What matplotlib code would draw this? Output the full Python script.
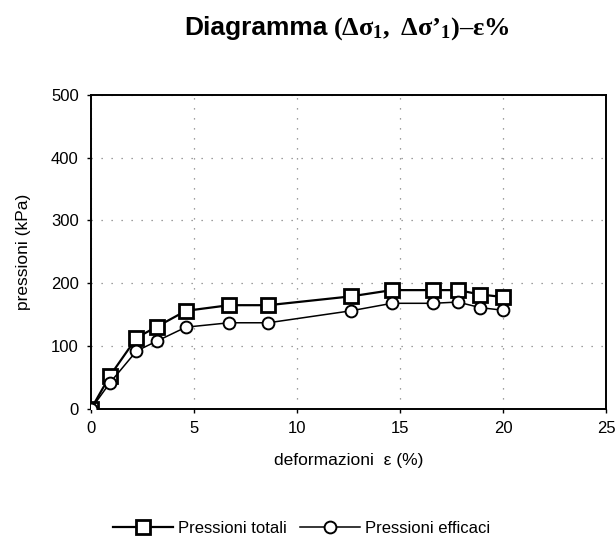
from matplotlib import pyplot as plt

# deformazioni (%) e pressioni (kPa)
deformazioni = [0, 0.9, 2.2, 3.2, 4.6, 6.7, 8.6, 12.6, 14.6, 16.6, 17.8, 18.9, 20.0]
pressioni_totali = [0, 52, 113, 131, 156, 165, 165, 179, 189, 189, 189, 182, 178]
pressioni_efficaci = [0, 41, 92, 108, 130, 137, 137, 156, 168, 168, 170, 161, 157]

x_ticks = [0, 5, 10, 15, 20, 25]
y_ticks = [0, 100, 200, 300, 400, 500]

plt.rcParams['font.family'] = ['Liberation Sans', 'DejaVu Sans']
plt.rcParams['mathtext.fontset'] = 'custom'
plt.rcParams['mathtext.rm'] = 'Liberation Serif:bold'
plt.rcParams['mathtext.it'] = 'Liberation Serif:bold'
plt.rcParams['mathtext.bf'] = 'Liberation Serif:bold'

fig = plt.figure(figsize=(6.16, 5.48), dpi=100)
ax = fig.add_axes([0.148, 0.254, 0.836, 0.573])

ax.plot(deformazioni, pressioni_totali, color='black', lw=1.6,
        marker='s', ms=10, mfc='white', mec='black', mew=2,
        label='Pressioni totali', zorder=3)
ax.plot(deformazioni, pressioni_efficaci, color='black', lw=1.1,
        marker='o', ms=8.5, mfc='white', mec='black', mew=1.4,
        label='Pressioni efficaci', zorder=4)

ax.set_xlim(0, 25)
ax.set_ylim(0, 500)
ax.set_xticks(x_ticks)
ax.set_yticks(y_ticks)
ax.tick_params(direction='out', length=3, width=1, labelsize=12, pad=6)
ax.grid(True, color='gray', linestyle=(0, (1, 7)), lw=0.9)
for s in ax.spines.values():
    s.set_linewidth(1.4)
    s.set_color('black')

ax.set_xlabel('deformazioni  ε (%)', fontsize=12.5, labelpad=12)
ax.set_ylabel('pressioni (kPa)', fontsize=12.5, labelpad=14)

# titolo in due parti: sans-serif + serif
fig.text(328 / 616, 1 - 35 / 548, 'Diagramma', fontsize=19, fontweight='bold',
         ha='right', va='baseline')
fig.text(333 / 616, 1 - 35 / 548, "$(\\Delta\\sigma_1,\\ \\Delta\\sigma\u2019_1)$–ε%",
         fontsize=19, fontweight='bold', family=['Liberation Serif', 'DejaVu Serif'],
         ha='left', va='baseline')

fig.legend(loc='center', bbox_to_anchor=(0.489, 0.036), ncol=2, frameon=False,
           fontsize=12, handlelength=3.6, handletextpad=0.3, columnspacing=0.8)

fig.savefig('out.png', dpi=100)
